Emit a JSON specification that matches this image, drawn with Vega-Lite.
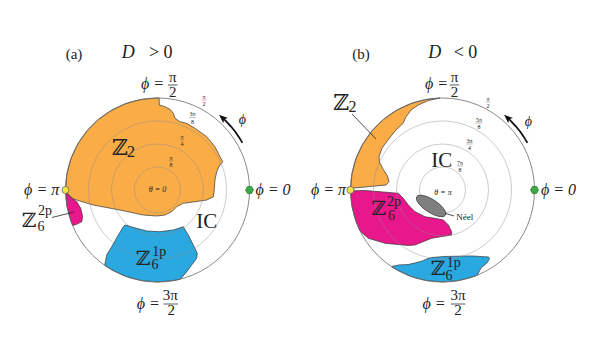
{
"$schema": "https://vega.github.io/schema/vega-lite/v6.json",
"padding": 0,
"background": "white",
"config": {"view": {"stroke": null}},
"data": {"values": [
{"panel":"a","kind":"region","region":"Z2","i":1,"x":-90,"y":0},
{"panel":"a","kind":"region","region":"Z2","i":2,"x":-88.6,"y":15.6},
{"panel":"a","kind":"region","region":"Z2","i":3,"x":-84.6,"y":30.8},
{"panel":"a","kind":"region","region":"Z2","i":4,"x":-77.9,"y":45},
{"panel":"a","kind":"region","region":"Z2","i":5,"x":-68.9,"y":57.9},
{"panel":"a","kind":"region","region":"Z2","i":6,"x":-57.9,"y":68.9},
{"panel":"a","kind":"region","region":"Z2","i":7,"x":-45,"y":77.9},
{"panel":"a","kind":"region","region":"Z2","i":8,"x":-30.8,"y":84.6},
{"panel":"a","kind":"region","region":"Z2","i":9,"x":-15.6,"y":88.6},
{"panel":"a","kind":"region","region":"Z2","i":10,"x":0,"y":90},
{"panel":"a","kind":"region","region":"Z2","i":11,"x":1.6,"y":90},
{"panel":"a","kind":"region","region":"Z2","i":12,"x":1.8,"y":83.1},
{"panel":"a","kind":"region","region":"Z2","i":13,"x":7.3,"y":81.5},
{"panel":"a","kind":"region","region":"Z2","i":14,"x":12.2,"y":78.9},
{"panel":"a","kind":"region","region":"Z2","i":15,"x":15.5,"y":75.0},
{"panel":"a","kind":"region","region":"Z2","i":16,"x":17.1,"y":70.1},
{"panel":"a","kind":"region","region":"Z2","i":17,"x":22.0,"y":66.8},
{"panel":"a","kind":"region","region":"Z2","i":18,"x":28.6,"y":65.2},
{"panel":"a","kind":"region","region":"Z2","i":19,"x":36.7,"y":60.3},
{"panel":"a","kind":"region","region":"Z2","i":20,"x":48.1,"y":52.1},
{"panel":"a","kind":"region","region":"Z2","i":21,"x":56.2,"y":42.3},
{"panel":"a","kind":"region","region":"Z2","i":22,"x":61.1,"y":32.6},
{"panel":"a","kind":"region","region":"Z2","i":23,"x":63.8,"y":27.7},
{"panel":"a","kind":"region","region":"Z2","i":24,"x":60.4,"y":23.5},
{"panel":"a","kind":"region","region":"Z2","i":25,"x":57.9,"y":17.9},
{"panel":"a","kind":"region","region":"Z2","i":26,"x":56.2,"y":9.8},
{"panel":"a","kind":"region","region":"Z2","i":27,"x":55.5,"y":0},
{"panel":"a","kind":"region","region":"Z2","i":28,"x":54.6,"y":-6.8},
{"panel":"a","kind":"region","region":"Z2","i":29,"x":48.1,"y":-9.8},
{"panel":"a","kind":"region","region":"Z2","i":30,"x":35.0,"y":-11.7},
{"panel":"a","kind":"region","region":"Z2","i":31,"x":25.2,"y":-13.0},
{"panel":"a","kind":"region","region":"Z2","i":32,"x":18.8,"y":-16.3},
{"panel":"a","kind":"region","region":"Z2","i":33,"x":13.9,"y":-21.2},
{"panel":"a","kind":"region","region":"Z2","i":34,"x":7.3,"y":-24.5},
{"panel":"a","kind":"region","region":"Z2","i":35,"x":-0.8,"y":-25.4},
{"panel":"a","kind":"region","region":"Z2","i":36,"x":-13.9,"y":-24.5},
{"panel":"a","kind":"region","region":"Z2","i":37,"x":-36.7,"y":-19.6},
{"panel":"a","kind":"region","region":"Z2","i":38,"x":-62.8,"y":-14.7},
{"panel":"a","kind":"region","region":"Z2","i":39,"x":-82.3,"y":-8.8},
{"panel":"a","kind":"region","region":"Z2","i":40,"x":-88.8,"y":-2.9},
{"panel":"a","kind":"region","region":"Z2","i":41,"x":-90,"y":0},
{"panel":"a","kind":"region","region":"Z6_2p","i":1,"x":-89.9,"y":-1.0},
{"panel":"a","kind":"region","region":"Z6_2p","i":2,"x":-85.6,"y":-6.6},
{"panel":"a","kind":"region","region":"Z6_2p","i":3,"x":-79.0,"y":-11.4},
{"panel":"a","kind":"region","region":"Z6_2p","i":4,"x":-75.1,"y":-17.9},
{"panel":"a","kind":"region","region":"Z6_2p","i":5,"x":-73.2,"y":-26.1},
{"panel":"a","kind":"region","region":"Z6_2p","i":6,"x":-74.1,"y":-31.0},
{"panel":"a","kind":"region","region":"Z6_2p","i":7,"x":-79.0,"y":-33.5},
{"panel":"a","kind":"region","region":"Z6_2p","i":8,"x":-82.9,"y":-34.7},
{"panel":"a","kind":"region","region":"Z6_2p","i":9,"x":-84.6,"y":-30.8},
{"panel":"a","kind":"region","region":"Z6_2p","i":10,"x":-88.6,"y":-15.6},
{"panel":"a","kind":"region","region":"Z6_2p","i":11,"x":-89.9,"y":-1.0},
{"panel":"a","kind":"region","region":"Z6_1p","i":1,"x":-31.8,"y":-34.2},
{"panel":"a","kind":"region","region":"Z6_1p","i":2,"x":-20.3,"y":-37.5},
{"panel":"a","kind":"region","region":"Z6_1p","i":3,"x":-10.6,"y":-40.1},
{"panel":"a","kind":"region","region":"Z6_1p","i":4,"x":2.4,"y":-40.8},
{"panel":"a","kind":"region","region":"Z6_1p","i":5,"x":15.5,"y":-39.1},
{"panel":"a","kind":"region","region":"Z6_1p","i":6,"x":25.2,"y":-35.9},
{"panel":"a","kind":"region","region":"Z6_1p","i":7,"x":30.1,"y":-44.0},
{"panel":"a","kind":"region","region":"Z6_1p","i":8,"x":35.0,"y":-53.8},
{"panel":"a","kind":"region","region":"Z6_1p","i":9,"x":38.9,"y":-61.9},
{"panel":"a","kind":"region","region":"Z6_1p","i":10,"x":38.3,"y":-66.8},
{"panel":"a","kind":"region","region":"Z6_1p","i":11,"x":33.4,"y":-73.4},
{"panel":"a","kind":"region","region":"Z6_1p","i":12,"x":28.6,"y":-79.9},
{"panel":"a","kind":"region","region":"Z6_1p","i":13,"x":22.4,"y":-87.2},
{"panel":"a","kind":"region","region":"Z6_1p","i":14,"x":15.6,"y":-88.6},
{"panel":"a","kind":"region","region":"Z6_1p","i":15,"x":0,"y":-90},
{"panel":"a","kind":"region","region":"Z6_1p","i":16,"x":-15.6,"y":-88.6},
{"panel":"a","kind":"region","region":"Z6_1p","i":17,"x":-30.8,"y":-84.6},
{"panel":"a","kind":"region","region":"Z6_1p","i":18,"x":-45,"y":-77.9},
{"panel":"a","kind":"region","region":"Z6_1p","i":19,"x":-51.6,"y":-73.7},
{"panel":"a","kind":"region","region":"Z6_1p","i":20,"x":-49.7,"y":-63.6},
{"panel":"a","kind":"region","region":"Z6_1p","i":21,"x":-44.8,"y":-55.5},
{"panel":"a","kind":"region","region":"Z6_1p","i":22,"x":-38.3,"y":-44.0},
{"panel":"a","kind":"region","region":"Z6_1p","i":23,"x":-33.4,"y":-35.9},
{"panel":"a","kind":"region","region":"Z6_1p","i":24,"x":-31.8,"y":-34.2},
{"panel":"b","kind":"region","region":"Z2","i":1,"x":-90,"y":0},
{"panel":"b","kind":"region","region":"Z2","i":2,"x":-88.6,"y":15.6},
{"panel":"b","kind":"region","region":"Z2","i":3,"x":-84.6,"y":30.8},
{"panel":"b","kind":"region","region":"Z2","i":4,"x":-77.9,"y":45},
{"panel":"b","kind":"region","region":"Z2","i":5,"x":-68.9,"y":57.9},
{"panel":"b","kind":"region","region":"Z2","i":6,"x":-57.9,"y":68.9},
{"panel":"b","kind":"region","region":"Z2","i":7,"x":-45,"y":77.9},
{"panel":"b","kind":"region","region":"Z2","i":8,"x":-30.8,"y":84.6},
{"panel":"b","kind":"region","region":"Z2","i":9,"x":-15.6,"y":88.6},
{"panel":"b","kind":"region","region":"Z2","i":10,"x":-2.4,"y":90},
{"panel":"b","kind":"region","region":"Z2","i":11,"x":-13.9,"y":87.5},
{"panel":"b","kind":"region","region":"Z2","i":12,"x":-23.7,"y":83.1},
{"panel":"b","kind":"region","region":"Z2","i":13,"x":-30.8,"y":78.2},
{"panel":"b","kind":"region","region":"Z2","i":14,"x":-35.7,"y":71.4},
{"panel":"b","kind":"region","region":"Z2","i":15,"x":-38.6,"y":65.2},
{"panel":"b","kind":"region","region":"Z2","i":16,"x":-45.5,"y":58.7},
{"panel":"b","kind":"region","region":"Z2","i":17,"x":-53.3,"y":48.9},
{"panel":"b","kind":"region","region":"Z2","i":18,"x":-59.2,"y":40.8},
{"panel":"b","kind":"region","region":"Z2","i":19,"x":-62.1,"y":32.6},
{"panel":"b","kind":"region","region":"Z2","i":20,"x":-61.6,"y":27.4},
{"panel":"b","kind":"region","region":"Z2","i":21,"x":-58.2,"y":20.5},
{"panel":"b","kind":"region","region":"Z2","i":22,"x":-53.8,"y":13.7},
{"panel":"b","kind":"region","region":"Z2","i":23,"x":-52.3,"y":8.1},
{"panel":"b","kind":"region","region":"Z2","i":24,"x":-55.3,"y":4.9},
{"panel":"b","kind":"region","region":"Z2","i":25,"x":-70.9,"y":3.4},
{"panel":"b","kind":"region","region":"Z2","i":26,"x":-88.8,"y":1.7},
{"panel":"b","kind":"region","region":"Z2","i":27,"x":-90,"y":0},
{"panel":"b","kind":"region","region":"Z6_2p","i":1,"x":-90,"y":-0.8},
{"panel":"b","kind":"region","region":"Z6_2p","i":2,"x":-75.8,"y":-0.5},
{"panel":"b","kind":"region","region":"Z6_2p","i":3,"x":-43.2,"y":-3.2},
{"panel":"b","kind":"region","region":"Z6_2p","i":4,"x":-38.3,"y":-8.1},
{"panel":"b","kind":"region","region":"Z6_2p","i":5,"x":-33.4,"y":-14.7},
{"panel":"b","kind":"region","region":"Z6_2p","i":6,"x":-26.9,"y":-21.2},
{"panel":"b","kind":"region","region":"Z6_2p","i":7,"x":-17.1,"y":-26.1},
{"panel":"b","kind":"region","region":"Z6_2p","i":8,"x":-7.3,"y":-27.7},
{"panel":"b","kind":"region","region":"Z6_2p","i":9,"x":0.8,"y":-29.3},
{"panel":"b","kind":"region","region":"Z6_2p","i":10,"x":5.7,"y":-34.2},
{"panel":"b","kind":"region","region":"Z6_2p","i":11,"x":9.0,"y":-40.8},
{"panel":"b","kind":"region","region":"Z6_2p","i":12,"x":8.8,"y":-44.0},
{"panel":"b","kind":"region","region":"Z6_2p","i":13,"x":-10.6,"y":-47.2},
{"panel":"b","kind":"region","region":"Z6_2p","i":14,"x":-26.9,"y":-53.8},
{"panel":"b","kind":"region","region":"Z6_2p","i":15,"x":-33.4,"y":-54.3},
{"panel":"b","kind":"region","region":"Z6_2p","i":16,"x":-56.2,"y":-52.1},
{"panel":"b","kind":"region","region":"Z6_2p","i":17,"x":-72.6,"y":-47.2},
{"panel":"b","kind":"region","region":"Z6_2p","i":18,"x":-80.7,"y":-40.1},
{"panel":"b","kind":"region","region":"Z6_2p","i":19,"x":-84.6,"y":-30.8},
{"panel":"b","kind":"region","region":"Z6_2p","i":20,"x":-88.6,"y":-15.6},
{"panel":"b","kind":"region","region":"Z6_2p","i":21,"x":-90,"y":-0.8},
{"panel":"b","kind":"region","region":"Z6_1p","i":1,"x":-49.9,"y":-74.9},
{"panel":"b","kind":"region","region":"Z6_1p","i":2,"x":-43.2,"y":-73.4},
{"panel":"b","kind":"region","region":"Z6_1p","i":3,"x":-33.7,"y":-72.9},
{"panel":"b","kind":"region","region":"Z6_1p","i":4,"x":-27.2,"y":-71.4},
{"panel":"b","kind":"region","region":"Z6_1p","i":5,"x":-20.3,"y":-69.6},
{"panel":"b","kind":"region","region":"Z6_1p","i":6,"x":-15.5,"y":-67.5},
{"panel":"b","kind":"region","region":"Z6_1p","i":7,"x":-10.6,"y":-66.0},
{"panel":"b","kind":"region","region":"Z6_1p","i":8,"x":2.4,"y":-65.0},
{"panel":"b","kind":"region","region":"Z6_1p","i":9,"x":28.6,"y":-64.5},
{"panel":"b","kind":"region","region":"Z6_1p","i":10,"x":44.8,"y":-65.5},
{"panel":"b","kind":"region","region":"Z6_1p","i":11,"x":46.2,"y":-66.8},
{"panel":"b","kind":"region","region":"Z6_1p","i":12,"x":43.5,"y":-71.4},
{"panel":"b","kind":"region","region":"Z6_1p","i":13,"x":37.9,"y":-75.8},
{"panel":"b","kind":"region","region":"Z6_1p","i":14,"x":34.0,"y":-83.3},
{"panel":"b","kind":"region","region":"Z6_1p","i":15,"x":30.8,"y":-84.6},
{"panel":"b","kind":"region","region":"Z6_1p","i":16,"x":15.6,"y":-88.6},
{"panel":"b","kind":"region","region":"Z6_1p","i":17,"x":0,"y":-90},
{"panel":"b","kind":"region","region":"Z6_1p","i":18,"x":-15.6,"y":-88.6},
{"panel":"b","kind":"region","region":"Z6_1p","i":19,"x":-30.8,"y":-84.6},
{"panel":"b","kind":"region","region":"Z6_1p","i":20,"x":-45,"y":-77.9},
{"panel":"b","kind":"region","region":"Z6_1p","i":21,"x":-49.9,"y":-74.9},
{"panel":"a","kind":"ring","rad":22.5,"x":0,"y":0},
{"panel":"a","kind":"ring","rad":45,"x":0,"y":0},
{"panel":"a","kind":"ring","rad":67.5,"x":0,"y":0},
{"panel":"a","kind":"outer","rad":90,"x":0,"y":0},
{"panel":"b","kind":"ring","rad":22.5,"x":0,"y":0},
{"panel":"b","kind":"ring","rad":45,"x":0,"y":0},
{"panel":"b","kind":"ring","rad":67.5,"x":0,"y":0},
{"panel":"b","kind":"outer","rad":90,"x":0,"y":0},
{"panel":"a","kind":"leader","x":-103.2,"y":-26.9,"x2":-81.7,"y2":-21.5},
{"panel":"b","kind":"leader","x":-88.5,"y":74.3,"x2":-65.0,"y2":49.9},
{"panel":"b","kind":"leader","x":1.5,"y":-22.5,"x2":11.2,"y2":-25.4},
{"panel":"a","kind":"bar","x":10.3,"y":102.7,"x2":19.6,"y2":102.7},
{"panel":"a","kind":"bar","x":5.9,"y":-111.5,"x2":20.0,"y2":-111.5},
{"panel":"b","kind":"bar","x":7.1,"y":102.7,"x2":16.4,"y2":102.7},
{"panel":"b","kind":"bar","x":8.1,"y":-111.5,"x2":22.3,"y2":-111.5},
{"panel":"a","kind":"tbar","x":43.3,"y":88.0,"x2":47.7,"y2":88.0},
{"panel":"a","kind":"tbar","x":31.0,"y":70.9,"x2":37.4,"y2":70.9},
{"panel":"a","kind":"tbar","x":21.8,"y":48.9,"x2":26.2,"y2":48.9},
{"panel":"a","kind":"tbar","x":11.0,"y":28.4,"x2":15.4,"y2":28.4},
{"panel":"b","kind":"tbar","x":42.3,"y":86.1,"x2":46.7,"y2":86.1},
{"panel":"b","kind":"tbar","x":32.5,"y":65.5,"x2":38.9,"y2":65.5},
{"panel":"b","kind":"tbar","x":23.2,"y":45.0,"x2":29.6,"y2":45.0},
{"panel":"b","kind":"tbar","x":13.9,"y":23.5,"x2":20.3,"y2":23.5},
{"panel":"a","kind":"arrow","i":1,"x":83.1,"y":46.1},
{"panel":"a","kind":"arrow","i":2,"x":79.7,"y":51.7},
{"panel":"a","kind":"arrow","i":3,"x":75.9,"y":57.2},
{"panel":"a","kind":"arrow","i":4,"x":71.7,"y":62.3},
{"panel":"a","kind":"arrow","i":5,"x":67.2,"y":67.2},
{"panel":"a","kind":"arrow","i":6,"x":64.8,"y":69.5},
{"panel":"b","kind":"arrow","i":1,"x":83.1,"y":46.1},
{"panel":"b","kind":"arrow","i":2,"x":79.7,"y":51.7},
{"panel":"b","kind":"arrow","i":3,"x":75.9,"y":57.2},
{"panel":"b","kind":"arrow","i":4,"x":71.7,"y":62.3},
{"panel":"b","kind":"arrow","i":5,"x":67.2,"y":67.2},
{"panel":"b","kind":"arrow","i":6,"x":64.8,"y":69.5},
{"panel":"a","kind":"head","x":63.6,"y":70.6},
{"panel":"b","kind":"head","x":63.6,"y":70.6},
{"panel":"a","kind":"pi","x":-90,"y":0},
{"panel":"b","kind":"pi","x":-90,"y":0},
{"panel":"a","kind":"zero","x":90,"y":0},
{"panel":"b","kind":"zero","x":90,"y":0},
{"panel":"b","kind":"neel","x":-11.2,"y":-15.6},
{"panel":"a","kind":"up","role":"panel","t":"(a)","x":-81.7,"y":128.6},
{"panel":"a","kind":"up","role":"sign","t":"> 0","x":3.2,"y":129.1},
{"panel":"a","kind":"up","role":"frac","t":"π","x":14.9,"y":105.6},
{"panel":"a","kind":"up","role":"frac","t":"2","x":14.9,"y":91.2},
{"panel":"a","kind":"up","role":"frac","t":"3π","x":12.5,"y":-107.6},
{"panel":"a","kind":"up","role":"frac","t":"2","x":13.4,"y":-122.3},
{"panel":"a","kind":"up","role":"tick","t":"π","x":45.5,"y":89.0},
{"panel":"a","kind":"up","role":"tick","t":"2","x":45.5,"y":82.1},
{"panel":"a","kind":"up","role":"tick","t":"3π","x":34.2,"y":71.9},
{"panel":"a","kind":"up","role":"tick","t":"8","x":34.2,"y":65.0},
{"panel":"a","kind":"up","role":"tick","t":"π","x":24.0,"y":49.9},
{"panel":"a","kind":"up","role":"tick","t":"4","x":24.0,"y":43.0},
{"panel":"a","kind":"up","role":"tick","t":"π","x":13.2,"y":29.4},
{"panel":"a","kind":"up","role":"tick","t":"8","x":13.2,"y":22.5},
{"panel":"a","kind":"up","role":"sub","t":"2","x":-26.0,"y":32.6},
{"panel":"a","kind":"up","role":"script","t":"2p","x":-110.0,"y":-24.9},
{"panel":"a","kind":"up","role":"script","t":"6","x":-114.0,"y":-40.1},
{"panel":"a","kind":"up","role":"script","t":"1p","x":1.7,"y":-64.5},
{"panel":"a","kind":"up","role":"script","t":"6","x":-2.4,"y":-76.8},
{"panel":"a","kind":"up","role":"ic","t":"IC","x":48.1,"y":-37.5},
{"panel":"a","kind":"it","role":"sign","t":"D","x":-28.6,"y":129.1},
{"panel":"a","kind":"it","role":"angle","t":"ϕ =","x":-4.9,"y":98.8},
{"panel":"a","kind":"it","role":"angle","t":"ϕ =","x":-9.0,"y":-115.9},
{"panel":"a","kind":"it","role":"angle","t":"ϕ = π","x":-113.3,"y":-4.9},
{"panel":"a","kind":"it","role":"angle","t":"ϕ = 0","x":113.0,"y":-4.9},
{"panel":"a","kind":"it","role":"center","t":"θ = 0","x":0,"y":-2.4},
{"panel":"a","kind":"it","role":"dir","t":"ϕ","x":83.1,"y":64.5},
{"panel":"a","kind":"zz","role":"zbig","t":"ℤ","x":-36.7,"y":34.2},
{"panel":"a","kind":"zz","role":"z","t":"ℤ","x":-125.6,"y":-35.7},
{"panel":"a","kind":"zz","role":"z","t":"ℤ","x":-14.2,"y":-73.4},
{"panel":"b","kind":"up","role":"panel","t":"(b)","x":-79.7,"y":128.1},
{"panel":"b","kind":"up","role":"sign","t":"< 0","x":22.5,"y":129.1},
{"panel":"b","kind":"up","role":"frac","t":"π","x":11.7,"y":105.6},
{"panel":"b","kind":"up","role":"frac","t":"2","x":11.7,"y":91.2},
{"panel":"b","kind":"up","role":"frac","t":"3π","x":15.2,"y":-107.6},
{"panel":"b","kind":"up","role":"frac","t":"2","x":15.2,"y":-122.3},
{"panel":"b","kind":"up","role":"tick","t":"π","x":44.5,"y":87.1},
{"panel":"b","kind":"up","role":"tick","t":"2","x":44.5,"y":80.2},
{"panel":"b","kind":"up","role":"tick","t":"5π","x":35.7,"y":66.5},
{"panel":"b","kind":"up","role":"tick","t":"8","x":35.7,"y":59.6},
{"panel":"b","kind":"up","role":"tick","t":"3π","x":26.4,"y":46.0},
{"panel":"b","kind":"up","role":"tick","t":"4","x":26.4,"y":39.1},
{"panel":"b","kind":"up","role":"tick","t":"7π","x":17.1,"y":24.5},
{"panel":"b","kind":"up","role":"tick","t":"8","x":17.1,"y":17.6},
{"panel":"b","kind":"up","role":"sub","t":"2","x":-88.0,"y":76.3},
{"panel":"b","kind":"up","role":"script","t":"2p","x":-47.5,"y":-15.2},
{"panel":"b","kind":"up","role":"script","t":"6","x":-50.0,"y":-29.8},
{"panel":"b","kind":"up","role":"script","t":"1p","x":11.1,"y":-75.3},
{"panel":"b","kind":"up","role":"script","t":"6","x":6.3,"y":-88.5},
{"panel":"b","kind":"up","role":"ic","t":"IC","x":-0.8,"y":22.5},
{"panel":"b","kind":"up","role":"note","t":"Néel","x":21.7,"y":-28.9},
{"panel":"b","kind":"it","role":"sign","t":"D","x":-7.6,"y":129.1},
{"panel":"b","kind":"it","role":"angle","t":"ϕ =","x":-5.9,"y":98.8},
{"panel":"b","kind":"it","role":"angle","t":"ϕ =","x":-8.3,"y":-115.9},
{"panel":"b","kind":"it","role":"angle","t":"ϕ = π","x":-111.5,"y":-4.9},
{"panel":"b","kind":"it","role":"angle","t":"ϕ = 0","x":113.4,"y":-4.9},
{"panel":"b","kind":"it","role":"center","t":"θ = π","x":0.5,"y":-4.4},
{"panel":"b","kind":"it","role":"dir","t":"ϕ","x":83.9,"y":62.6},
{"panel":"b","kind":"zz","role":"zbig","t":"ℤ","x":-99.0,"y":78.2},
{"panel":"b","kind":"zz","role":"z","t":"ℤ","x":-62.3,"y":-24.5},
{"panel":"b","kind":"zz","role":"z","t":"ℤ","x":-4.4,"y":-83.1}
]},
"facet": {"column": {"field": "panel", "type": "nominal", "header": null}},
"spacing": 0,
"bounds": "flush",
"spec": {
  "width": 285,
  "height": 348,
  "resolve": {"scale": {"size": "independent"}},
  "encoding": {
    "x": {"field": "x", "type": "quantitative", "scale": {"domain": [-154.04, 124.7], "nice": false, "zero": false}, "axis": null},
    "y": {"field": "y", "type": "quantitative", "scale": {"domain": [-154.52, 185.82], "nice": false, "zero": false}, "axis": null}
  },
  "layer": [
    {"transform": [{"filter": "datum.kind === 'region'"}],
     "mark": {"type": "line", "filled": true, "stroke": "#333333", "strokeWidth": 0.7, "strokeJoin": "round", "opacity": 1},
     "encoding": {
       "color": {"field": "region", "type": "nominal", "scale": {"domain": ["Z2", "Z6_2p", "Z6_1p"], "range": ["#FAAD47", "#E9178C", "#2AA8E0"]}, "legend": null},
       "detail": {"field": "region"},
       "order": {"field": "i", "type": "quantitative"}
     }},
    {"transform": [{"filter": "datum.kind === 'ring'"}],
     "mark": {"type": "point", "shape": "circle", "filled": false, "stroke": "#8a8a8a", "strokeOpacity": 0.55, "strokeWidth": 0.8, "opacity": 1},
     "encoding": {"size": {"field": "rad", "type": "quantitative", "scale": {"type": "pow", "exponent": 2, "domain": [0, 90], "range": [0, 33874]}, "legend": null}}},
    {"transform": [{"filter": "datum.kind === 'outer'"}],
     "mark": {"type": "point", "shape": "circle", "filled": false, "stroke": "#6a6a6a", "strokeWidth": 0.8, "opacity": 1},
     "encoding": {"size": {"field": "rad", "type": "quantitative", "scale": {"type": "pow", "exponent": 2, "domain": [0, 90], "range": [0, 33874]}, "legend": null}}},
    {"transform": [{"filter": "datum.kind === 'leader'"}],
     "mark": {"type": "rule", "stroke": "#222222", "strokeWidth": 0.8},
     "encoding": {"x2": {"field": "x2"}, "y2": {"field": "y2"}}},
    {"transform": [{"filter": "datum.kind === 'bar'"}],
     "mark": {"type": "rule", "stroke": "#333333", "strokeWidth": 0.8},
     "encoding": {"x2": {"field": "x2"}, "y2": {"field": "y2"}}},
    {"transform": [{"filter": "datum.kind === 'tbar'"}],
     "mark": {"type": "rule", "stroke": "#555555", "strokeWidth": 0.4},
     "encoding": {"x2": {"field": "x2"}, "y2": {"field": "y2"}}},
    {"transform": [{"filter": "datum.kind === 'arrow'"}],
     "mark": {"type": "line", "stroke": "#111111", "strokeWidth": 1.8},
     "encoding": {"order": {"field": "i", "type": "quantitative"}}},
    {"transform": [{"filter": "datum.kind === 'head'"}],
     "mark": {"type": "point", "shape": "M0,-1L0.75,0.9L0,0.45L-0.75,0.9Z", "filled": true, "fill": "#111111", "strokeWidth": 0, "size": 88, "angle": 312, "opacity": 1}},
    {"transform": [{"filter": "datum.kind === 'pi'"}],
     "mark": {"type": "point", "shape": "circle", "filled": true, "fill": "#F3E23C", "stroke": "#666666", "strokeWidth": 0.8, "size": 50, "opacity": 1}},
    {"transform": [{"filter": "datum.kind === 'zero'"}],
     "mark": {"type": "point", "shape": "M1,0L0.5,0.866L-0.5,0.866L-1,0L-0.5,-0.866L0.5,-0.866Z", "filled": true, "fill": "#3DAA49", "stroke": "#2B7A33", "strokeWidth": 0.8, "size": 64, "opacity": 1}},
    {"transform": [{"filter": "datum.kind === 'neel'"}],
     "mark": {"type": "point", "shape": "M-1,0A1,0.38,0,1,1,1,0A1,0.38,0,1,1,-1,0Z", "filled": true, "fill": "#7F7F7F", "stroke": "#3d3d3d", "strokeWidth": 0.8, "size": 1156, "angle": 33, "opacity": 1}},
    {"transform": [{"filter": "datum.kind === 'up'"}],
     "mark": {"type": "text", "font": "Liberation Serif, DejaVu Serif", "color": "#222222", "align": "center", "baseline": "alphabetic"},
     "encoding": {"text": {"field": "t"},
       "size": {"field": "role", "type": "nominal", "scale": {"type": "ordinal", "domain": ["panel", "sign", "angle", "frac", "tick", "center", "zbig", "z", "sub", "script", "ic", "note", "dir"], "range": [15, 18, 16, 15, 6, 8, 22, 20, 16, 14, 21, 9, 14]}, "legend": null}}},
    {"transform": [{"filter": "datum.kind === 'it'"}],
     "mark": {"type": "text", "font": "Liberation Serif, DejaVu Serif", "fontStyle": "italic", "color": "#222222", "align": "center", "baseline": "alphabetic"},
     "encoding": {"text": {"field": "t"},
       "size": {"field": "role", "type": "nominal", "scale": {"type": "ordinal", "domain": ["panel", "sign", "angle", "frac", "tick", "center", "zbig", "z", "sub", "script", "ic", "note", "dir"], "range": [15, 18, 16, 15, 6, 8, 22, 20, 16, 14, 21, 9, 14]}, "legend": null}}},
    {"transform": [{"filter": "datum.kind === 'zz'"}],
     "mark": {"type": "text", "font": "DejaVu Serif", "color": "#222222", "align": "center", "baseline": "alphabetic"},
     "encoding": {"text": {"field": "t"},
       "size": {"field": "role", "type": "nominal", "scale": {"type": "ordinal", "domain": ["panel", "sign", "angle", "frac", "tick", "center", "zbig", "z", "sub", "script", "ic", "note", "dir"], "range": [15, 18, 16, 15, 6, 8, 22, 20, 16, 14, 21, 9, 14]}, "legend": null}}}
  ]
}
}
